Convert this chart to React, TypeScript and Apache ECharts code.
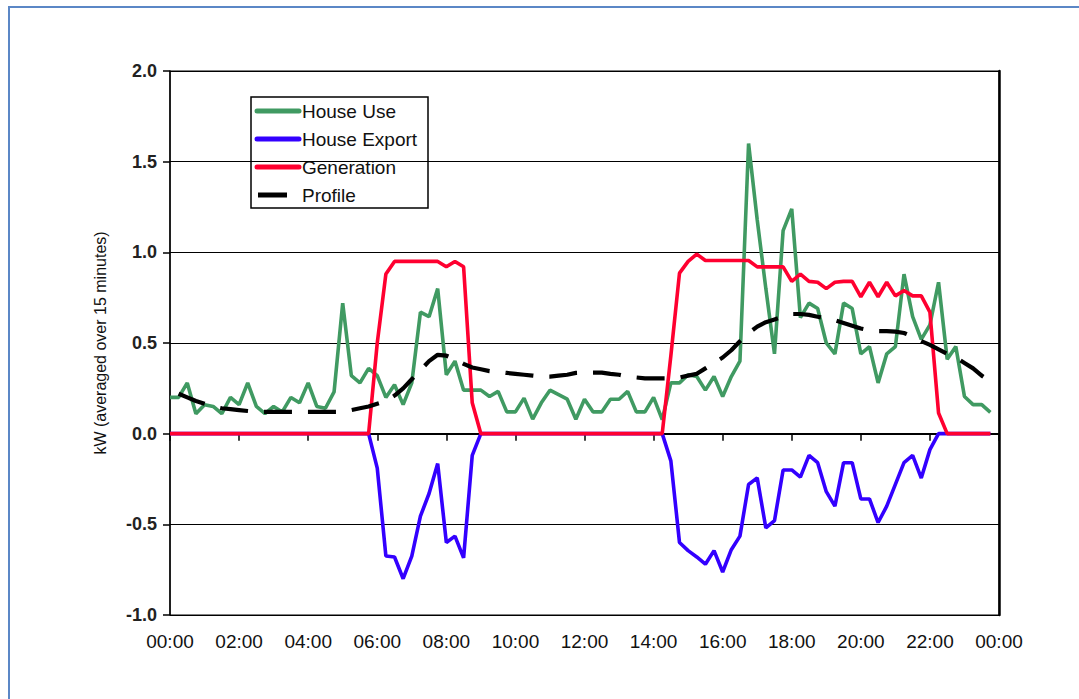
import React, { useEffect, useRef } from "react";
import * as echarts from "echarts";

// 15-minute time stamps 00:00 … 24:00 (shown as 00:00)
const timeLabels: string[] = [];
for (let i = 0; i <= 96; i++) {
  const h = Math.floor(i / 4) % 24;
  const m = (i % 4) * 15;
  timeLabels.push(`${String(h).padStart(2, "0")}:${String(m).padStart(2, "0")}`);
}

const seriesNames = ["House Use", "House Export", "Generation", "Profile"];

const houseUse = [
  0.20, 0.20, 0.28, 0.11, 0.16, 0.15, 0.11, 0.20, 0.16, 0.28, 0.15, 0.11,
  0.15, 0.12, 0.20, 0.17, 0.28, 0.15, 0.14, 0.23, 0.72, 0.32, 0.28, 0.36,
  0.32, 0.20, 0.27, 0.16, 0.28, 0.67, 0.645, 0.80, 0.325, 0.40, 0.24, 0.24,
  0.24, 0.205, 0.233, 0.12, 0.12, 0.196, 0.08, 0.17, 0.24, 0.215, 0.19, 0.08,
  0.19, 0.12, 0.12, 0.19, 0.19, 0.233, 0.12, 0.12, 0.20, 0.077, 0.28, 0.28,
  0.325, 0.315, 0.24, 0.315, 0.205, 0.315, 0.40, 1.60, 1.18, 0.80, 0.44, 1.12,
  1.24, 0.64, 0.72, 0.69, 0.50, 0.44, 0.72, 0.69, 0.44, 0.48, 0.28, 0.44,
  0.48, 0.88, 0.645, 0.52, 0.60, 0.835, 0.41, 0.48, 0.205, 0.16, 0.16, 0.117,
];

const houseExport = [
  0, 0, 0, 0, 0, 0, 0, 0, 0, 0, 0, 0,
  0, 0, 0, 0, 0, 0, 0, 0, 0, 0, 0, 0,
  -0.19, -0.675, -0.68, -0.80, -0.675, -0.455, -0.33, -0.165, -0.60, -0.565, -0.685, -0.12,
  0, 0, 0, 0, 0, 0, 0, 0, 0, 0, 0, 0,
  0, 0, 0, 0, 0, 0, 0, 0, 0, 0, -0.15, -0.60,
  -0.645, -0.68, -0.72, -0.645, -0.763, -0.64, -0.565, -0.28, -0.244, -0.52, -0.48, -0.20,
  -0.20, -0.24, -0.12, -0.16, -0.32, -0.40, -0.16, -0.16, -0.36, -0.36, -0.49, -0.40,
  -0.28, -0.16, -0.12, -0.245, -0.088, 0, 0, 0, 0, 0, 0, 0,
];

const generation = [
  0, 0, 0, 0, 0, 0, 0, 0, 0, 0, 0, 0,
  0, 0, 0, 0, 0, 0, 0, 0, 0, 0, 0, 0,
  0.50, 0.88, 0.95, 0.95, 0.95, 0.95, 0.95, 0.95, 0.92, 0.95, 0.92, 0.17,
  0, 0, 0, 0, 0, 0, 0, 0, 0, 0, 0, 0,
  0, 0, 0, 0, 0, 0, 0, 0, 0, 0, 0.43, 0.885,
  0.95, 0.99, 0.955, 0.955, 0.955, 0.955, 0.955, 0.955, 0.92, 0.92, 0.92, 0.92,
  0.84, 0.88, 0.84, 0.835, 0.80, 0.835, 0.84, 0.84, 0.755, 0.835, 0.755, 0.835,
  0.76, 0.79, 0.76, 0.76, 0.67, 0.114, 0, 0, 0, 0, 0, 0,
];

const profile = [
  null, 0.22, 0.20, 0.18, 0.165, 0.15, 0.14, 0.135, 0.13, 0.125, 0.12, 0.12,
  0.12, 0.12, 0.12, 0.12, 0.12, 0.12, 0.12, 0.12, 0.12, 0.13, 0.14, 0.15,
  0.165, 0.18, 0.21, 0.25, 0.30, 0.35, 0.40, 0.435, 0.43, 0.41, 0.385, 0.365,
  0.355, 0.345, 0.34, 0.335, 0.33, 0.325, 0.32, 0.315, 0.315, 0.32, 0.325, 0.335,
  0.337, 0.337, 0.337, 0.33, 0.325, 0.315, 0.31, 0.305, 0.305, 0.305, 0.305, 0.31,
  0.32, 0.33, 0.36, 0.39, 0.42, 0.46, 0.51, 0.555, 0.59, 0.615, 0.63, 0.645,
  0.66, 0.66, 0.655, 0.645, 0.635, 0.625, 0.61, 0.595, 0.58, 0.57, 0.565, 0.565,
  0.563, 0.555, 0.535, 0.51, 0.49, 0.465, 0.44, 0.42, 0.39, 0.36, 0.32, 0.29,
];

const yAxisTitle = "kW (averaged over 15 minutes)";

const GREEN = "#409a62";
const BLUE = "#3300ff";
const RED = "#ff0030";
const BLACK = "#000000";
const FONT = "'Liberation Sans', Arial, Helvetica, sans-serif";

export default function App() {
  const ref = useRef<HTMLDivElement>(null);

  useEffect(() => {
    if (!ref.current) return;
    const chart = echarts.init(ref.current, undefined, { renderer: "svg" });

    const legendRows = [
      { name: seriesNames[0], color: GREEN, x1: 257, x2: 299 },
      { name: seriesNames[1], color: BLUE, x1: 257, x2: 299 },
      { name: seriesNames[2], color: RED, x1: 257, x2: 299 },
      { name: seriesNames[3], color: BLACK, x1: 258, x2: 287 },
    ];
    const legendChildren: any[] = [
      {
        type: "rect",
        shape: { x: 251, y: 97, width: 177, height: 111 },
        style: { fill: "#ffffff", stroke: "#000", lineWidth: 1.5 },
      },
    ];
    legendRows.forEach((r, i) => {
      const y = 111 + i * 28;
      legendChildren.push({
        type: "line",
        shape: { x1: r.x1, y1: y, x2: r.x2, y2: y },
        style: { stroke: r.color, lineWidth: 5, lineCap: i === 3 ? "butt" : "round" },
      });
      legendChildren.push({
        type: "text",
        x: 302,
        y: y,
        style: {
          text: r.name,
          fill: "#111",
          font: `19px ${FONT}`,
          textVerticalAlign: "middle",
          verticalAlign: "middle",
        },
      });
    });

    chart.setOption({
      animation: false,
      backgroundColor: "#ffffff",
      grid: {
        left: 170,
        top: 71,
        width: 829,
        height: 544,
        show: true,
        borderColor: "#000",
        borderWidth: 1,
        backgroundColor: "transparent",
      },
      xAxis: {
        type: "category",
        data: timeLabels,
        boundaryGap: false,
        axisLine: { lineStyle: { color: "#000", width: 2 } },
        axisTick: { show: true, interval: 7, length: 7, lineStyle: { color: "#000", width: 1.5 } },
        axisLabel: {
          interval: 7,
          margin: 17,
          fontSize: 19,
          color: "#111",
          fontFamily: "'Liberation Sans Narrow', 'Arial Narrow', " + FONT,
        },
        splitLine: { show: false },
      },
      yAxis: [
        {
          type: "value",
          min: -1,
          max: 2,
          interval: 0.5,
          axisLine: { show: true, lineStyle: { color: "#000", width: 1.5 } },
          axisTick: { show: true, length: 7, lineStyle: { color: "#000", width: 1.5 } },
          axisLabel: {
            formatter: (v: number) => v.toFixed(1),
            fontSize: 18,
            fontWeight: "bold",
            color: "#222",
            margin: 13,
            fontFamily: FONT,
          },
          splitLine: { show: true, lineStyle: { color: "#000", width: 1 } },
          name: yAxisTitle,
          nameLocation: "middle",
          nameGap: 62,
          nameTextStyle: { fontSize: 16, color: "#111", fontFamily: FONT },
        },
        {
          type: "value",
          position: "right",
          min: -1,
          max: 2,
          interval: 0.5,
          axisLine: { show: true, lineStyle: { color: "#000", width: 2.5 } },
          axisTick: { show: false },
          axisLabel: { show: false },
          splitLine: { show: false },
        },
      ],
      series: [
        {
          name: seriesNames[0],
          type: "line",
          data: houseUse,
          showSymbol: false,
          symbol: "none",
          lineStyle: { color: GREEN, width: 3.6 },
          z: 2,
        },
        {
          name: seriesNames[1],
          type: "line",
          data: houseExport,
          showSymbol: false,
          symbol: "none",
          lineStyle: { color: BLUE, width: 3.6 },
          z: 3,
        },
        {
          name: seriesNames[2],
          type: "line",
          data: generation,
          showSymbol: false,
          symbol: "none",
          lineStyle: { color: RED, width: 3.6 },
          z: 4,
        },
        {
          name: seriesNames[3],
          type: "line",
          data: profile,
          showSymbol: false,
          symbol: "none",
          connectNulls: false,
          lineStyle: { color: BLACK, width: 4.2, type: [28, 16] },
          z: 5,
        },
      ],
      graphic: [
        {
          type: "rect",
          silent: true,
          shape: { x: 9, y: 7, width: 1200, height: 800 },
          style: { fill: "none", stroke: "#5b87c6", lineWidth: 2 },
          z: 100,
        },
        { type: "group", children: legendChildren, z: 50 },
      ],
    });

    return () => chart.dispose();
  }, []);

  return (
    <div
      ref={ref}
      style={{ position: "fixed", left: 0, top: 0, width: 1079, height: 699, background: "#fff" }}
    />
  );
}
